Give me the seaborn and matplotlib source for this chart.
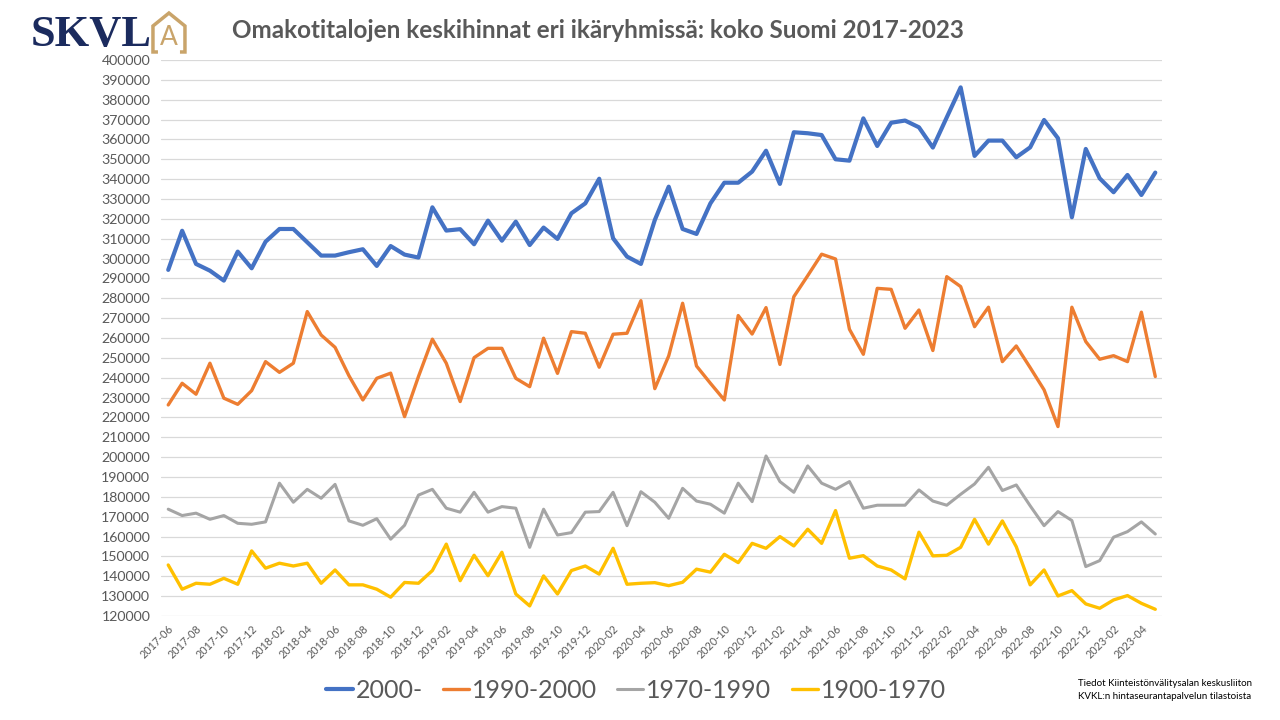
import matplotlib
matplotlib.use("Agg")
import matplotlib.pyplot as plt
from matplotlib.patches import Polygon
import numpy as np
import pandas as pd
import seaborn as sns

# monthly average prices of detached houses, 2017-06 .. 2023-05
months = [str(p) for p in pd.period_range("2017-06", "2023-05", freq="M")]

p_2000 = [294300, 314000, 297300, 293900, 288900, 303500, 295100, 308500, 314900, 314900,
          308200, 301500, 301500, 303200, 304700, 296300, 306300, 302000, 300500, 325800,
          314100, 314800, 307200, 319100, 309000, 318600, 306800, 315600, 309900, 322800,
          327800, 340200, 310200, 301000, 297300, 319400, 336200, 314900, 312400, 327800,
          338200, 338200, 343800, 354300, 337600, 363600, 363100, 362200, 350000, 349300,
          370600, 356700, 368400, 369500, 366100, 355900, 371100, 386200, 351700, 359400,
          359400, 351000, 356000, 369800, 360600, 320800, 355200, 340400, 333400, 342100,
          332000, 343300]
p_1990 = [226300, 237200, 231700, 247300, 229700, 226600, 233500, 248100, 242700, 247300,
          273300, 261500, 255300, 241000, 228800, 239700, 242300, 220400, 240600, 259400,
          247300, 228000, 250100, 254800, 254800, 239700, 235500, 259900, 242200, 263200,
          262400, 245300, 261900, 262400, 278800, 234500, 251000, 277500, 245900, 237200,
          228800, 271300, 262000, 275300, 246700, 280800, 291400, 302200, 299800, 264400,
          251800, 285000, 284500, 264900, 274100, 253700, 290900, 285900, 265700, 275500,
          248100, 256000, 245100, 233900, 215400, 275500, 258200, 249300, 251100, 248100,
          273000, 240600]
p_1970 = [173800, 170600, 171800, 168700, 170600, 166700, 166200, 167400, 186900, 177300,
          183800, 179300, 186300, 167900, 165700, 169000, 158700, 165700, 180900, 183800,
          174300, 172300, 182300, 172300, 175100, 174300, 154600, 173800, 160800, 162000,
          172300, 172600, 182300, 165500, 182600, 177300, 169200, 184300, 177900, 176300,
          171800, 186900, 177600, 200600, 187700, 182300, 195600, 186900, 183800, 187700,
          174300, 175800, 175800, 175800, 183500, 177900, 175800, 181300, 186500, 194900,
          183200, 186000, 175500, 165500, 172600, 168100, 144900, 147900, 159700, 162500,
          167400, 161300]
p_1900 = [145700, 133500, 136500, 136000, 139000, 136000, 152800, 144100, 146600, 145200,
          146600, 136500, 143200, 135700, 135700, 133500, 129500, 136900, 136500, 142900,
          156200, 137800, 150600, 140300, 152100, 131100, 125100, 140200, 131100, 142900,
          145200, 141100, 154100, 136000, 136500, 136800, 135300, 137000, 143600, 142100,
          151100, 146900, 156600, 154100, 160000, 155300, 163700, 156600, 173100, 149100,
          150400, 145200, 143200, 138700, 162200, 150300, 150600, 154600, 168700, 156200,
          167900, 154900, 135700, 143200, 130100, 132800, 126100, 123900, 128100, 130300,
          126400, 123400]

series = ["2000-", "1990-2000", "1970-1990", "1900-1970"]
colors = ["#4472C4", "#ED7D31", "#A5A5A5", "#FFC000"]
widths = [3.0, 2.4, 2.2, 2.4]

df = pd.DataFrame({"kk": months, "i": range(len(months)),
                   "2000-": p_2000, "1990-2000": p_1990,
                   "1970-1990": p_1970, "1900-1970": p_1900})
long = df.melt(id_vars=["kk", "i"], value_vars=series, var_name="ryhma", value_name="hinta")

sns.set_style("white")
plt.rcParams["font.family"] = ["Lato", "DejaVu Sans"]
txt = "#595959"

fig = plt.figure(figsize=(12.8, 7.2), dpi=100)
ax = fig.add_axes([0.126, 0.1444, 0.782, 0.7723])

for s, c, w in zip(series, colors, widths):
    sns.lineplot(data=long[long["ryhma"] == s], x="i", y="hinta", color=c,
                 linewidth=w, label=s, ax=ax, sort=False)

ax.set_xlim(-0.5, len(months) - 0.5)
ax.set_ylim(120000, 400000)
ax.set_yticks(np.arange(120000, 400001, 10000))
ax.set_yticklabels([str(v) for v in range(120000, 400001, 10000)], fontsize=10.2, color=txt)
ax.set_xticks(range(0, len(months), 2))
ax.set_xticklabels(months[::2], rotation=45, ha="right", rotation_mode="anchor",
                   fontsize=7.8, color=txt)
ax.tick_params(axis="y", length=0, pad=8)
ax.tick_params(axis="x", length=0, pad=5)
ax.grid(axis="y", color="#D9D9D9", linewidth=0.9)
ax.set_axisbelow(True)
for sp in ax.spines.values():
    sp.set_visible(False)
ax.set_xlabel("")
ax.set_ylabel("")

ax.legend_.remove()
h, l = ax.get_legend_handles_labels()
leg = fig.legend(h, l, loc="center", bbox_to_anchor=(0.497, 0.041), ncol=4, frameon=False,
                 fontsize=18, handlelength=1.05, handletextpad=0.12, columnspacing=0.8)
for t in leg.get_texts():
    t.set_color(txt)

fig.text(0.467, 0.957, "Omakotitalojen keskihinnat eri ikäryhmissä: koko Suomi 2017-2023",
         ha="center", va="center", fontsize=17.5, fontweight="bold", color=txt)

# SKVL logo
fig.text(0.024, 0.952, "SKVL", ha="left", va="center", fontsize=32, fontweight="bold",
         color="#1B2B5E", family=["Liberation Serif", "DejaVu Serif"])
gold = "#C9A46A"
fig.patches.append(Polygon([(0.1234, 0.9278), (0.1195, 0.9278), (0.1195, 0.9639),
                            (0.1320, 0.9819), (0.1445, 0.9639), (0.1445, 0.9278),
                            (0.1406, 0.9278)], closed=False,
                           transform=fig.transFigure, fill=False, edgecolor=gold, linewidth=2.5))
fig.text(0.1320, 0.948, "A", ha="center", va="center", fontsize=19, color=gold)

fig.text(0.8425, 0.042, "Tiedot Kiinteistönvälitysalan keskusliiton\nKVKL:n hintaseurantapalvelun tilastoista",
         ha="left", va="center", fontsize=7, color="black", linespacing=1.5)

fig.savefig("out.png", dpi=100)
